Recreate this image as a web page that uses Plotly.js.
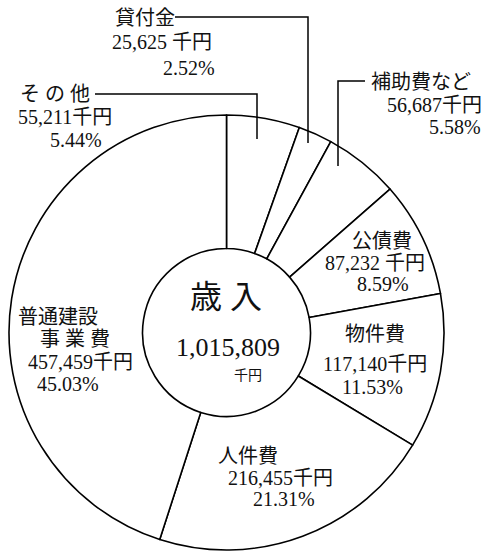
<!DOCTYPE html>
<html>
<head>
<meta charset="utf-8">
<script src="https://cdn.plot.ly/plotly-3.0.1.min.js"></script>
<style>html,body{margin:0;padding:0;background:#fff;}#chart{width:488px;height:554px;}</style>
</head>
<body>
<div id="chart"></div>
<script>
// Data (clockwise from 12 o'clock)
const categories = ["その他", "貸付金", "補助費など", "公債費", "物件費", "人件費", "普通建設事業費"];
const amounts = [55211, 25625, 56687, 87232, 117140, 216455, 457459]; // 千円
const percents = ["5.44%", "2.52%", "5.58%", "8.59%", "11.53%", "21.31%", "45.03%"];
const totalLabel = "1,015,809";
const centerTitle = "歳 入";
const unit = "千円";

const W = 488, H = 554;
const px = x => x / W;
const py = y => 1 - y / H;
const FONT = '"Liberation Serif", "Noto Sans CJK JP", serif';
const fmt = n => n.toLocaleString("en-US");

const trace = {
  type: "pie",
  values: amounts,
  labels: categories,
  sort: false,
  direction: "clockwise",
  rotation: 0,
  hole: 0.386,
  textinfo: "none",
  hoverinfo: "none",
  showlegend: false,
  marker: { colors: categories.map(() => "#ffffff"), line: { color: "#000", width: 1.6 } },
  domain: { x: [px(9), px(444)], y: [py(550), py(115)] }
};

function line(text, left, cy, size) {
  return { text: text, x: px(left), y: py(cy), xref: "paper", yref: "paper",
    xanchor: "left", yanchor: "middle", showarrow: false, borderpad: 0,
    font: { family: FONT, size: size || 20, color: "#111" } };
}
function centered(text, cx, cy, size) {
  const a = line(text, cx, cy, size); a.xanchor = "center"; return a;
}

const annotations = [
  // 貸付金
  line("貸付金", 114, 18),
  line(fmt(amounts[1]) + " " + unit, 111, 42),
  line(percents[1], 162, 68),
  // その他
  line("そ の 他", 19, 94),
  line(fmt(amounts[0]) + unit, 17, 117),
  line(percents[0], 49, 140),
  // 補助費など
  line("補助費など", 370, 82),
  line(fmt(amounts[2]) + unit, 386, 105),
  line(percents[2], 428, 127),
  // 公債費
  line("公債費", 351, 241),
  line(fmt(amounts[3]) + " " + unit, 324, 263),
  line(percents[3], 356, 284),
  // 物件費
  line("物件費", 344, 334),
  line(fmt(amounts[4]) + unit, 322, 364),
  line(percents[4], 341, 387),
  // 人件費
  line("人件費", 217, 456),
  line(fmt(amounts[5]) + unit, 227, 478),
  line(percents[5], 252, 499),
  // 普通建設事業費
  line("普通建設", 17, 317),
  line("事 業 費", 39, 339),
  line(fmt(amounts[6]) + unit, 27, 362),
  line(percents[6], 36, 384),
  // center
  centered(centerTitle, 226, 297, 32),
  centered(totalLabel, 228, 347, 26),
  centered(unit, 248, 375, 14)
];

function path(points) {
  return { type: "path", xref: "paper", yref: "paper",
    path: points.map((p, i) => (i ? "L" : "M") + px(p[0]) + "," + py(p[1])).join(" "),
    line: { color: "#000", width: 1.5 } };
}
const shapes = [
  path([[175, 17], [308, 17], [308, 143]]),   // 貸付金
  path([[95, 94], [257, 94], [257, 139]]),    // その他
  path([[365, 81], [338, 81], [338, 166]])    // 補助費など
];

const layout = {
  width: W, height: H,
  margin: { l: 0, r: 0, t: 0, b: 0 },
  paper_bgcolor: "#fff",
  plot_bgcolor: "#fff",
  annotations: annotations,
  shapes: shapes
};

Plotly.newPlot("chart", [trace], layout, { staticPlot: true, displayModeBar: false });
</script>
</body>
</html>
